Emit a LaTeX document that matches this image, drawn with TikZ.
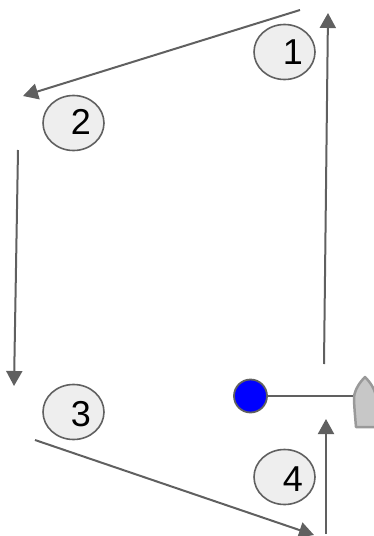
\documentclass[tikz,border=0pt]{standalone}
\usepackage{fontspec}
\setmainfont{Liberation Sans}
\usetikzlibrary{arrows.meta,shapes.geometric}
\definecolor{linegray}{HTML}{606060}
\definecolor{fillgray}{HTML}{EEEEEE}
\tikzset{
  route/.style={draw=linegray,line width=2pt,-{Triangle[length=15pt,width=16pt]}},
  badge/.style={ellipse,draw=linegray,line width=1.6pt,fill=fillgray,minimum width=61pt,minimum height=55pt,inner sep=0pt},
  badgetext/.style={font=\fontsize{36}{36}\selectfont,text=black,inner sep=0pt}
}
\begin{document}
\begin{tikzpicture}[x=1pt,y=-1pt]
\useasboundingbox (0,0) rectangle (374,536);
% route coordinates
\coordinate (r1s) at (324,364); \coordinate (r1e) at (328,13);
\coordinate (r2s) at (300,10); \coordinate (r2e) at (23,96);
\coordinate (r3s) at (18,150); \coordinate (r3e) at (14,386);
\coordinate (r4s) at (35,440); \coordinate (r4e) at (314,535);
\coordinate (r5s) at (326,534); \coordinate (r5e) at (326,419);
\draw[route] (r1s) -- (r1e);
\draw[route] (r2s) -- (r2e);
\draw[route] (r3s) -- (r3e);
\draw[route] (r4s) -- (r4e);
\draw[route] (r5s) -- (r5e);
% badges
\node[badge] (b1) at (284.5,52) {};
\node[badgetext] (t1) at (293,52) {1};
\node[badge] (b2) at (73.5,123) {};
\node[badgetext] (t2) at (81,122) {2};
\node[badge] (b3) at (73.5,412) {};
\node[badgetext] (t3) at (81,414) {3};
\node[badge] (b4) at (284.5,477) {};
\node[badgetext] (t4) at (293,479) {4};
% boat
\coordinate (boatport) at (353,396);
\draw[draw=black!40,line width=2.5pt,fill=black!22,line join=round]
  (356,427) .. controls (355,415) and (354,405) .. (354,397)
  .. controls (355,389) and (360,382) .. (365,377)
  .. controls (370,382) and (375,389) .. (376,397) -- (376,427) -- cycle;
% sensor
\node[circle,draw=linegray,line width=1.8pt,fill=blue,minimum size=33pt,inner sep=0pt] (dot) at (250.5,396) {};
\draw[draw=linegray,line width=2pt] (dot) -- (boatport);
\end{tikzpicture}
\end{document}
